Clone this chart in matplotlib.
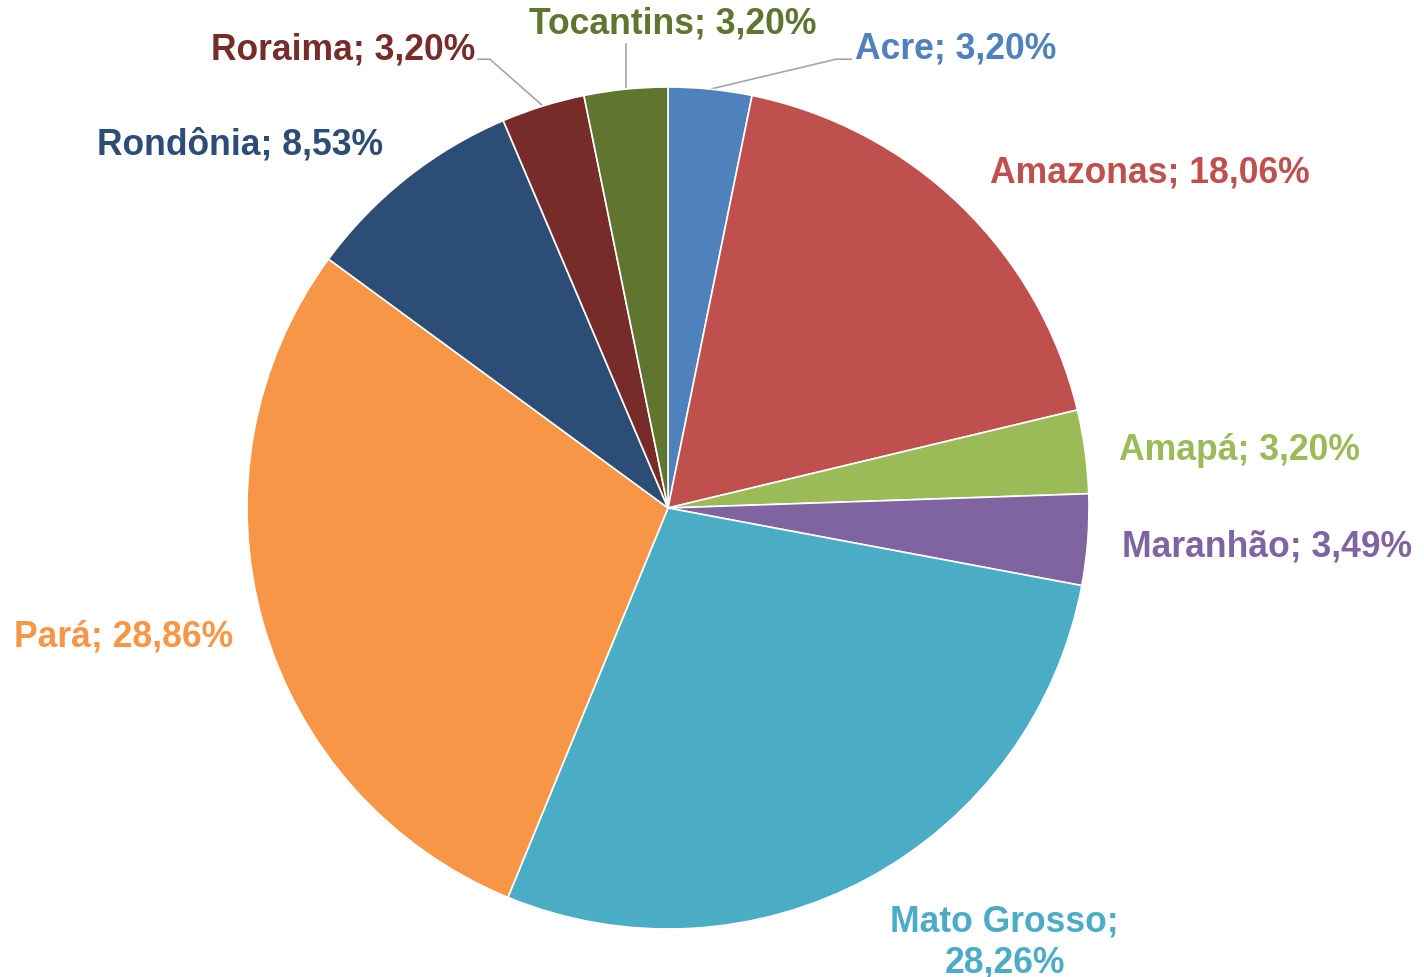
import numpy as np
import matplotlib
matplotlib.use("Agg")
import matplotlib.pyplot as plt

states = ["Acre", "Amazonas", "Amapá", "Maranhão", "Mato Grosso", "Pará",
          "Rondônia", "Roraima", "Tocantins"]
shares = [3.20, 18.06, 3.20, 3.49, 28.26, 28.86, 8.53, 3.20, 3.20]
colors = ["#4F81BD", "#C0504D", "#9BBB59", "#8064A2", "#4BACC6", "#F79646",
          "#2C4D75", "#772C2A", "#5F7530"]

W, H = 1424, 978
fig = plt.figure(figsize=(W / 100, H / 100), dpi=100)
ax = fig.add_axes([0, 0, 1, 1])
# layout: centre at (668, 509) px, radius 421 px
cx, cy, R = 668, 509, 421
ax.axis("off")

wedges, _ = ax.pie(shares, colors=colors, startangle=90, counterclock=False,
                   radius=1, wedgeprops=dict(edgecolor="white", linewidth=1.2))
ax.set_xlim(-cx / R, (W - cx) / R)
ax.set_ylim(-(H - cy) / R, cy / R)
ax.set_aspect("equal")

def fmt(v):
    return f"{v:.2f}".replace(".", ",") + "%"

# label layout: (x, y, ha)
layout = {
    "Acre": (0.444, 1.092, "left"),
    "Amazonas": (0.765, 0.798, "left"),
    "Amapá": (1.071, 0.140, "left"),
    "Maranhão": (1.078, -0.090, "left"),
    "Mato Grosso": (0.800, -1.030, "center"),
    "Pará": (-1.033, -0.303, "right"),
    "Rondônia": (-0.677, 0.864, "right"),
    "Roraima": (-0.458, 1.090, "right"),
    "Tocantins": (0.012, 1.152, "center"),
}

for name, v, c in zip(states, shares, colors):
    x, y, ha = layout[name]
    txt = f"{name}; {fmt(v)}" if name != "Mato Grosso" else f"{name};\n{fmt(v)}"
    ax.text(x, y, txt, ha=ha, va="center", color=c, fontsize=25.6,
            fontweight="bold", family="Liberation Sans", linespacing=1.22,
            multialignment="center")

# leader lines
cum = np.cumsum([0] + shares)
def edge_point(i):
    mid = (cum[i] + cum[i + 1]) / 2 / 100 * 2 * np.pi
    ang = np.pi / 2 - mid
    return np.cos(ang), np.sin(ang)

leaders = {
    "Roraima": [(-0.451, 1.066), (-0.423, 1.066)],
    "Tocantins": None,
    "Acre": [(0.435, 1.066), (0.399, 1.066)],
}
for name, pts in leaders.items():
    i = states.index(name)
    ex, ey = edge_point(i)
    if pts is None:
        xs, ys = [ex, ex], [ey, 1.102]
    else:
        xs = [pts[0][0], pts[1][0], ex]
        ys = [pts[0][1], pts[1][1], ey]
    ax.plot(xs, ys, color="#A6A6A6", lw=1.2, zorder=0.5)

fig.savefig("out.png", dpi=100, facecolor="white")
